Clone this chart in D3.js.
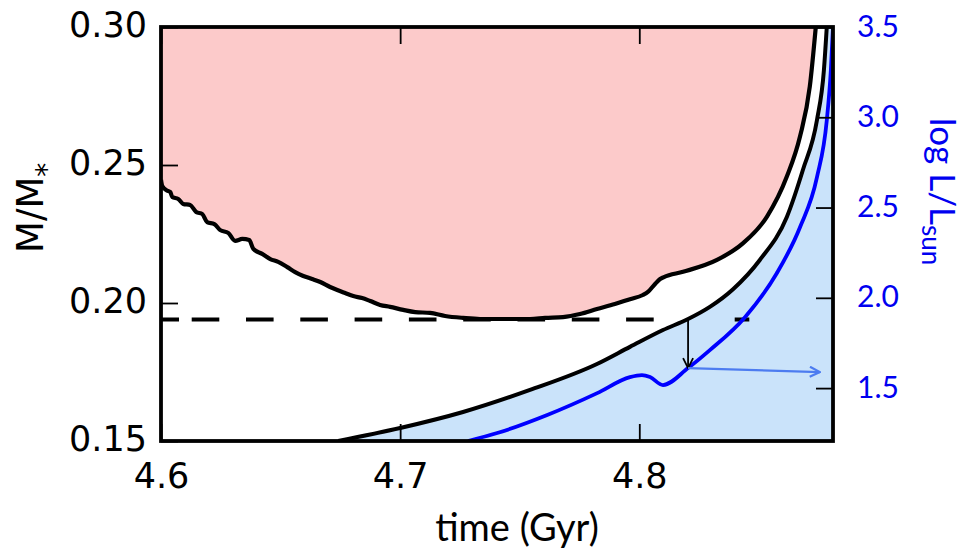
<!DOCTYPE html>
<html>
<head>
<meta charset="utf-8">
<script src="https://cdn.jsdelivr.net/npm/d3@7"></script>
<style>
  body { margin: 0; background: #fff; }
  svg { display: block; }
</style>
</head>
<body>
<div id="chart"></div>
<script>
// ticks
const timeTicks = [4.6, 4.7, 4.8];
const massTicks = [0.15, 0.20, 0.25, 0.30];
const lumTicks = [1.5, 2.0, 2.5, 3.0, 3.5];

// upper (jagged) boundary of the pink region, M/M*
const edgeTime = [4.6000, 4.6005, 4.6022, 4.6039, 4.6047, 4.6072, 4.6093, 4.6122, 4.6147, 4.6173,
  4.6193, 4.6223, 4.6248, 4.6281, 4.6310, 4.6340, 4.6369, 4.6386, 4.6423, 4.6457,
  4.6490, 4.6528, 4.6561, 4.6595, 4.6632, 4.6666, 4.6707, 4.6737, 4.6770, 4.6804,
  4.6841, 4.6875, 4.6916, 4.6958, 4.7013, 4.7063, 4.7125, 4.7188, 4.7263, 4.7334,
  4.7405, 4.7480, 4.7543, 4.7606, 4.7681, 4.7752, 4.7823, 4.7898, 4.7961, 4.8015,
  4.8036, 4.8066, 4.8087, 4.8103, 4.8183, 4.8325, 4.8433, 4.8534, 4.8617, 4.8672,
  4.8713, 4.8738];
const edgeMass = [0.2446, 0.2424, 0.2409, 0.2402, 0.2384, 0.2377, 0.2359, 0.2355, 0.2330, 0.2322,
  0.2293, 0.2286, 0.2264, 0.2254, 0.2225, 0.2232, 0.2228, 0.2196, 0.2178, 0.2159,
  0.2149, 0.2130, 0.2112, 0.2098, 0.2087, 0.2076, 0.2058, 0.2047, 0.2036, 0.2025,
  0.2018, 0.2007, 0.1993, 0.1986, 0.1975, 0.1967, 0.1964, 0.1953, 0.1946, 0.1942,
  0.1942, 0.1942, 0.1942, 0.1946, 0.1949, 0.1960, 0.1978, 0.1996, 0.2014, 0.2029,
  0.2040, 0.2069, 0.2087, 0.2094, 0.2113, 0.2156, 0.2216, 0.2313, 0.2458, 0.2603,
  0.2784, 0.3000];

// lower black curve (top of blue region), M/M*
const coreTime = [4.6741, 4.7000, 4.7263, 4.7543, 4.7823, 4.7961, 4.8099, 4.8204, 4.8295,
  4.8392, 4.8504, 4.8617, 4.8684, 4.8743, 4.8772, 4.8784];
const coreMass = [0.1500, 0.1547, 0.1605, 0.1685, 0.1779, 0.1841, 0.1902, 0.1942, 0.1986,
  0.2050, 0.2156, 0.2312, 0.2482, 0.2663, 0.2844, 0.3000];

// luminosity, log L/Lsun
const lumTime = [4.7284, 4.7406, 4.7615, 4.7824, 4.7961, 4.8011, 4.8045, 4.8099, 4.8204,
  4.8295, 4.8442, 4.8575, 4.8672, 4.8743, 4.8784, 4.8801, 4.8810];
const logL = [1.207, 1.251, 1.351, 1.472, 1.561, 1.572, 1.561, 1.517, 1.611,
  1.710, 1.893, 2.136, 2.391, 2.668, 2.983, 3.260, 3.500];

// dashed level and arrows
const dashMass = 0.194;
const dashEnd = 4.846;
const arrowTime = 4.8204;
const arrowMass = 0.1942;
const arrowLogL = 1.611;
const arrowEndTime = 4.8755;
const arrowEndLogL = 1.589;

const width = 969, height = 551;
const pLeft = 161, pRight = 833, pTop = 27, pBottom = 441;

const x = d3.scaleLinear().domain([4.6, 4.881]).range([pLeft, pRight]);
const yM = d3.scaleLinear().domain([0.15, 0.30]).range([pBottom, pTop]);
const yL = d3.scaleLinear().domain([1.207, 3.5]).range([pBottom, pTop]);

const svg = d3.select('#chart').append('svg')
  .attr('width', width)
  .attr('height', height);

const defs = svg.append('defs');
defs.append('clipPath').attr('id', 'plot')
  .append('rect')
  .attr('x', pLeft).attr('y', pTop)
  .attr('width', pRight - pLeft).attr('height', pBottom - pTop);

function head(id, color, w) {
  defs.append('marker')
    .attr('id', id)
    .attr('viewBox', '0 0 12 12')
    .attr('refX', 11).attr('refY', 6)
    .attr('markerWidth', 12).attr('markerHeight', 12)
    .attr('markerUnits', 'userSpaceOnUse')
    .attr('orient', 'auto')
    .append('path')
    .attr('d', 'M1,1 L11,6 L1,11')
    .attr('fill', 'none')
    .attr('stroke', color)
    .attr('stroke-width', w);
}
head('headBlack', '#000', 1.8);
head('headBlue', '#4d7cf0', 2.2);

const edge = edgeTime.map((t, i) => ({t: t, v: edgeMass[i]}));
const core = coreTime.map((t, i) => ({t: t, v: coreMass[i]}));
core.push({t: 4.881, v: 0.30});
const lum = lumTime.map((t, i) => ({t: t, v: logL[i]}));

const g = svg.append('g').attr('clip-path', 'url(#plot)');

// pink region
g.append('path')
  .datum(edge)
  .attr('d', d3.area().curve(d3.curveMonotoneX)
    .x(d => x(d.t)).y0(yM(0.30)).y1(d => yM(d.v)))
  .attr('fill', '#fccaca');

// blue region
g.append('path')
  .datum(core)
  .attr('d', d3.area().curve(d3.curveMonotoneX)
    .x(d => x(d.t)).y0(pBottom).y1(d => yM(d.v)))
  .attr('fill', '#cae3fa');

// dashed level (one dash near the arrow is missing in the original)
const dashPattern = [18, 12.7]
  .concat(d3.range(8).flatMap(() => [27.6, 26.7]))
  .concat([27.6, 81, 27.6, 60]);
g.append('line')
  .attr('x1', x(4.6)).attr('x2', x(dashEnd))
  .attr('y1', yM(dashMass)).attr('y2', yM(dashMass))
  .attr('stroke', '#000')
  .attr('stroke-width', 4)
  .attr('stroke-dasharray', dashPattern.join(' '));

const lineM = d3.line().curve(d3.curveMonotoneX).x(d => x(d.t)).y(d => yM(d.v));

g.append('path')
  .datum(edge)
  .attr('d', lineM)
  .attr('fill', 'none')
  .attr('stroke', '#000')
  .attr('stroke-width', 4.2);

g.append('path')
  .datum(core.slice(0, coreTime.length))
  .attr('d', lineM)
  .attr('fill', 'none')
  .attr('stroke', '#000')
  .attr('stroke-width', 4);

g.append('path')
  .datum(lum)
  .attr('d', d3.line().curve(d3.curveMonotoneX).x(d => x(d.t)).y(d => yL(d.v)))
  .attr('fill', 'none')
  .attr('stroke', '#0000ff')
  .attr('stroke-width', 3.8);

// arrows
svg.append('line')
  .attr('x1', x(arrowTime)).attr('x2', x(arrowTime))
  .attr('y1', yM(arrowMass)).attr('y2', yL(arrowLogL))
  .attr('stroke', '#000')
  .attr('stroke-width', 1.8)
  .attr('marker-end', 'url(#headBlack)');

svg.append('line')
  .attr('x1', x(arrowTime)).attr('x2', x(arrowEndTime))
  .attr('y1', yL(arrowLogL)).attr('y2', yL(arrowEndLogL))
  .attr('stroke', '#4d7cf0')
  .attr('stroke-width', 2.2)
  .attr('marker-end', 'url(#headBlue)');

// axes
const leftAxis = svg.append('g')
  .attr('transform', `translate(${pLeft},0)`)
  .call(d3.axisLeft(yM).tickValues(massTicks).tickFormat(d3.format('.2f'))
    .tickSize(-17).tickPadding(14));

const bottomAxis = svg.append('g')
  .attr('transform', `translate(0,${pBottom})`)
  .call(d3.axisBottom(x).tickValues(timeTicks).tickFormat(d3.format('.1f'))
    .tickSize(-17).tickPadding(22));

const topAxis = svg.append('g')
  .attr('transform', `translate(0,${pTop})`)
  .call(d3.axisTop(x).tickValues(timeTicks).tickFormat('').tickSize(-17));

const rightAxis = svg.append('g')
  .attr('transform', `translate(${pRight},0)`)
  .call(d3.axisRight(yL).tickValues(lumTicks).tickFormat(d3.format('.1f'))
    .tickSize(-17).tickPadding(24));

[leftAxis, bottomAxis, topAxis, rightAxis].forEach(a => {
  a.select('.domain').remove();
  a.selectAll('.tick line').attr('stroke', '#000').attr('stroke-width', 1.8);
});
[leftAxis, bottomAxis].forEach(a => {
  a.selectAll('text')
    .attr('font-family', 'DejaVu Sans')
    .attr('font-size', 35)
    .attr('fill', '#000');
});
leftAxis.selectAll('text').attr('dy', '0.28em');
rightAxis.selectAll('text')
  .attr('font-family', 'Lato')
  .attr('font-size', 30)
  .attr('fill', '#0000f0')
  .attr('dy', '0.3em');

// frame
svg.append('rect')
  .attr('x', pLeft).attr('y', pTop)
  .attr('width', pRight - pLeft).attr('height', pBottom - pTop)
  .attr('fill', 'none')
  .attr('stroke', '#000')
  .attr('stroke-width', 3.8);

// titles
svg.append('text')
  .attr('x', 517).attr('y', 541)
  .attr('text-anchor', 'middle')
  .attr('font-family', 'Lato')
  .attr('font-size', 38)
  .text('time (Gyr)');

const yTitle = svg.append('text')
  .attr('transform', 'translate(43,253) rotate(-90)')
  .attr('font-family', 'DejaVu Sans')
  .attr('font-size', 37)
  .text('M/M');
yTitle.append('tspan')
  .attr('font-size', 28)
  .attr('dy', 13)
  .text('*');

const lTitle = svg.append('text')
  .attr('transform', 'translate(930,118) rotate(90)')
  .attr('font-family', 'Lato')
  .attr('font-size', 35)
  .attr('fill', '#0000f0')
  .text('log L/L');
lTitle.append('tspan')
  .attr('font-size', 26)
  .attr('dy', 8)
  .text('sun');
</script>
</body>
</html>
